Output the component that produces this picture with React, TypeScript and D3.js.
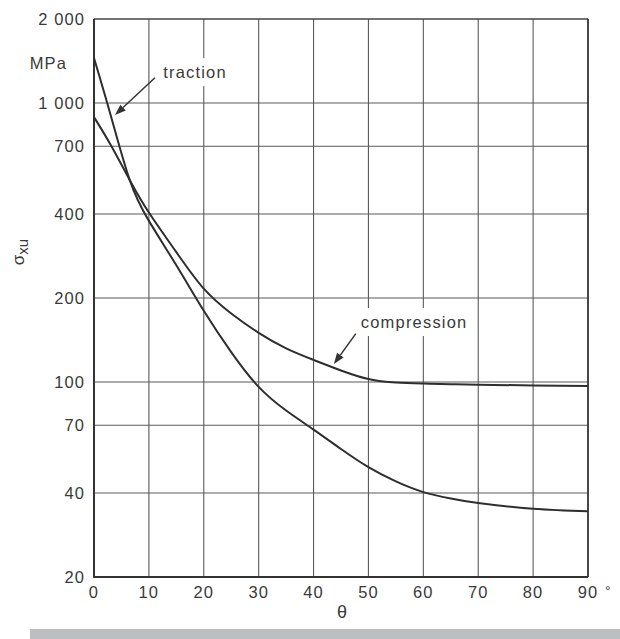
import React from 'react';
import * as d3 from 'd3';

// ---- data ----
const thetaTicks = [0, 10, 20, 30, 40, 50, 60, 70, 80, 90];
const yTicks = [20, 40, 70, 100, 200, 400, 700, 1000, 2000];
const yTickLabels = ['20', '40', '70', '100', '200', '400', '700', '1 000', '2 000'];
const theta = [0, 3, 6.5, 10, 15, 20, 25, 30, 35, 40, 45, 50, 55, 60, 65, 70, 80, 90];
const traction = [1450, 910, 530, 378, 262, 180, 128, 96, 79, 67.5, 57.5, 49.5, 44, 40.3, 38.2, 36.8, 35.1, 34.4];
const compression = [890, 710, 530, 405, 292, 216, 176, 150, 132, 120, 110, 102.5, 99.5, 98.7, 98.2, 97.8, 97.2, 96.8];

const annTraction = { label: 'traction', lx: 12.6, lv: 1290, from: [11.1, 1231], to: [3.83, 905] };
const annCompression = { label: 'compression', lx: 48.6, lv: 164, from: [47.7, 149], to: [43.7, 116] };

const W = 620, H = 639;
const left = 94, right = 588, top = 19, bottom = 577;
const FONT = '"Liberation Sans", Arial, Helvetica, sans-serif';
const TXT = '#3a3a3a';

export default function App() {
  const x = d3.scaleLinear().domain([0, 90]).range([left, right]);
  const y = d3.scaleLog().domain([20, 2000]).range([bottom, top]);
  const line = d3.line<number>()
    .x((_, i) => x(theta[i]))
    .y((d) => y(d))
    .curve(d3.curveNatural);

  const arrow = (a: any, key: string) => {
    const x1 = x(a.from[0]), y1 = y(a.from[1]);
    const x2 = x(a.to[0]), y2 = y(a.to[1]);
    const ang = Math.atan2(y2 - y1, x2 - x1);
    const L = 11, w = 4;
    const bx = x2 - L * Math.cos(ang), by = y2 - L * Math.sin(ang);
    const p1 = [bx + w * Math.sin(ang), by - w * Math.cos(ang)];
    const p2 = [bx - w * Math.sin(ang), by + w * Math.cos(ang)];
    return (
      <g key={key}>
        <line x1={x1} y1={y1} x2={bx} y2={by} stroke="#333" strokeWidth={1.5} />
        <polygon points={`${x2},${y2} ${p1[0]},${p1[1]} ${p2[0]},${p2[1]}`} fill="#333" />
      </g>
    );
  };

  const labelBox = (a: any, key: string, w: number) => {
    const lx = x(a.lx), ly = y(a.lv);
    return (
      <g key={key}>
        <rect x={lx - 4} y={ly - 14} width={w + 8} height={28} fill="#fff" />
        <text x={lx} y={ly + 6} fontSize={16.5} letterSpacing={1.2} fill={TXT} fontFamily={FONT}>{a.label}</text>
      </g>
    );
  };

  return (
    <svg width={W} height={H} style={{ position: 'absolute', left: 0, top: 0, background: '#fff' }}>
      <rect x={0} y={0} width={W} height={H} fill="#fff" />
      {/* grid */}
      {thetaTicks.slice(1, -1).map((t) => (
        <line key={'vx' + t} x1={x(t)} x2={x(t)} y1={top} y2={bottom} stroke="#5a5a5a" strokeWidth={1.1} />
      ))}
      {yTicks.slice(1, -1).map((v) => (
        <line key={'hy' + v} x1={left} x2={right} y1={y(v)} y2={y(v)} stroke="#5a5a5a" strokeWidth={1.1} />
      ))}
      {/* labels with white boxes */}
      {labelBox(annTraction, 'lt', 64)}
      {labelBox(annCompression, 'lc', 107)}
      {/* frame */}
      <line x1={left} x2={right} y1={top} y2={top} stroke="#444" strokeWidth={1.4} />
      <line x1={right} x2={right} y1={top} y2={bottom} stroke="#333" strokeWidth={1.8} />
      <line x1={left} x2={left} y1={top} y2={bottom + 1} stroke="#333" strokeWidth={2} />
      <line x1={left} x2={right} y1={bottom} y2={bottom} stroke="#333" strokeWidth={2} />
      {/* curves */}
      <path d={line(traction) || ''} fill="none" stroke="#2e2e2e" strokeWidth={2} />
      <path d={line(compression) || ''} fill="none" stroke="#2e2e2e" strokeWidth={2} />
      {arrow(annTraction, 'at')}
      {arrow(annCompression, 'ac')}
      {/* y tick labels */}
      {yTicks.map((v, i) => (
        <text key={'yl' + v} x={85} y={y(v) + 6} textAnchor="end" fontSize={16.5} letterSpacing={1.1} fill={TXT} fontFamily={FONT}>{yTickLabels[i]}</text>
      ))}
      {/* x tick labels */}
      {thetaTicks.map((t) => (
        <text key={'xl' + t} x={x(t)} y={598} textAnchor="middle" fontSize={16.5} letterSpacing={1.1} fill={TXT} fontFamily={FONT}>{t}</text>
      ))}
      <text x={605} y={596} fontSize={14} fill={TXT} fontFamily={FONT}>°</text>
      <text x={342} y={618} textAnchor="middle" fontSize={18} fill={TXT} fontFamily={FONT}>θ</text>
      <text x={67} y={69} textAnchor="end" fontSize={16.5} letterSpacing={1.1} fill={TXT} fontFamily={FONT}>MPa</text>
      <text transform="translate(24,252) rotate(-90)" textAnchor="middle" fontSize={17} fill={TXT} fontFamily={FONT}>
        σ<tspan fontSize={15} dy={4}>xu</tspan>
      </text>
      <rect x={30} y={629} width={590} height={10} fill="#bdbec0" />
    </svg>
  );
}
